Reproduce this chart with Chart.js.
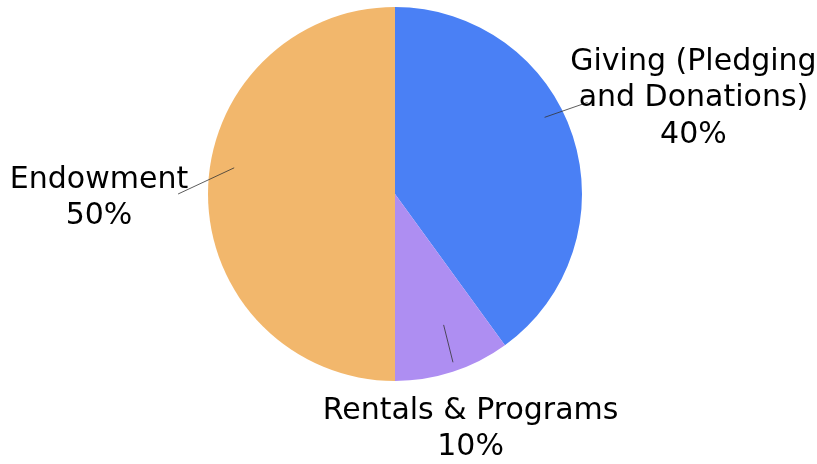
<!DOCTYPE html>
<html>
<head>
<meta charset="utf-8">
<script src="https://cdn.jsdelivr.net/npm/chart.js@4/dist/chart.umd.min.js"></script>
<style>
  html, body { margin: 0; padding: 0; background: #fff; }
  #wrap { width: 817px; height: 464px; }
</style>
</head>
<body>
<div id="wrap"><canvas id="pie"></canvas></div>
<script>
const labels = ["Giving (Pledging\nand Donations)", "Rentals & Programs", "Endowment"];
const values = [40, 10, 50];
const colors = ["#4a80f5", "#ae8ef2", "#f2b76c"];

// label placement relative to the pie centre, as fractions of the radius
const labelLayout = [
  { x1: 0.80, y1: -0.41, x2: 1.03, y2: -0.49, tx: 1.596, ty: -0.706 },
  { x1: 0.26, y1: 0.70, x2: 0.31, y2: 0.90, tx: 0.404, ty: 1.160 },
  { x1: -0.86, y1: -0.14, x2: -1.16, y2: 0.0, tx: -1.583, ty: -0.075 }
];

const fontSpec = "30px 'DejaVu Sans', sans-serif";
const lineGap = 36.5;

const outLabels = {
  id: "outLabels",
  afterDraw(chart) {
    const ctx = chart.ctx;
    const arcs = chart.getDatasetMeta(0).data;
    ctx.save();
    arcs.forEach((arc, i) => {
      const lay = labelLayout[i];
      const cx = arc.x, cy = arc.y, r = arc.outerRadius;
      ctx.strokeStyle = "#333";
      ctx.lineWidth = 0.8;
      ctx.beginPath();
      ctx.moveTo(cx + lay.x1 * r, cy + lay.y1 * r);
      ctx.lineTo(cx + lay.x2 * r, cy + lay.y2 * r);
      ctx.stroke();

      const lines = labels[i].split("\n").concat([values[i] + "%"]);
      ctx.font = fontSpec;
      ctx.fillStyle = "#000";
      ctx.textAlign = "center";
      ctx.textBaseline = "middle";
      lines.forEach((t, k) => {
        ctx.fillText(t, cx + lay.tx * r, cy + lay.ty * r + k * lineGap);
      });
    });
    ctx.restore();
  }
};

new Chart(document.getElementById("pie"), {
  type: "pie",
  data: {
    labels: labels,
    datasets: [
      {
        data: values,
        backgroundColor: colors,
        borderWidth: 0,
      },
    ],
  },
  options: {
    responsive: true,
    maintainAspectRatio: false,
    animation: false,
    layout: {
      padding: { left: 208, right: 235, top: 7, bottom: 83 },
    },
    plugins: {
      legend: { display: false },
      tooltip: { enabled: false },
    },
  },
  plugins: [outLabels],
});
</script>
</body>
</html>
